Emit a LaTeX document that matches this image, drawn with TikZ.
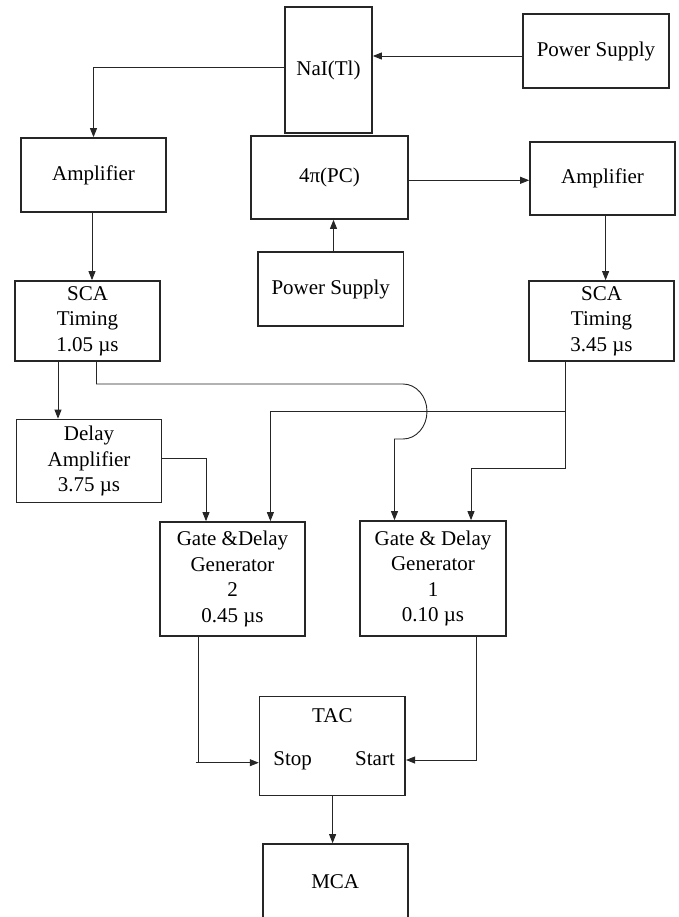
\documentclass[tikz,border=0pt]{standalone}
\usepackage{fontspec}
\setmainfont{Liberation Serif}
\usetikzlibrary{arrows.meta}
\begin{document}
\begin{tikzpicture}[x=1pt,y=-1pt,
  box/.style={draw=black!85, line width=1.7pt, align=center, inner sep=0pt, font=\fontsize{21}{25.5}\selectfont},
  conn/.style={draw=black!85, line width=0.9pt},
  arr/.style={conn, -{Triangle[length=9pt,width=7pt]}},
  lbl/.style={inner sep=0pt, font=\fontsize{21}{25.5}\selectfont}]
\useasboundingbox (0,0) rectangle (678,917);

\node[box, minimum width=87pt, minimum height=126pt] (nai) at (328.5,70) {NaI(Tl)};
\node[box, minimum width=146pt, minimum height=74pt] (ps1) at (596,51) {Power Supply};
\node[box, minimum width=145pt, minimum height=74pt] (amp1) at (93.5,175) {Amplifier};
\node[box, minimum width=157pt, minimum height=83pt] (pc) at (329.5,177.5) {4π(PC)};
\node[box, minimum width=145pt, minimum height=73pt] (amp2) at (602.5,178.5) {Amplifier};
\node[box, minimum width=145pt, minimum height=80pt] (sca1) at (87.5,321) {SCA\\Timing\\1.05 µs};
\node[box, minimum width=145.5pt, minimum height=74pt] (ps2) at (330.75,289) {Power Supply};
\node[box, minimum width=145pt, minimum height=80pt] (sca2) at (601.5,321) {SCA\\Timing\\3.45 µs};
\node[box, minimum width=145pt, minimum height=83pt] (delay) at (89,461) {Delay\\Amplifier\\3.75 µs};
\node[box, minimum width=145pt, minimum height=114pt] (gd2) at (232.5,579) {Gate \&Delay\\Generator\\2\\0.45 µs};
\node[box, minimum width=146pt, minimum height=115pt] (gd1) at (433,578.5) {Gate \& Delay\\Generator\\1\\0.10 µs};
\node[box, minimum width=145.6pt, minimum height=99pt] (tac) at (332.4,746) {};
\node[lbl, anchor=base] (taclbl) at (332.4,722.7) {TAC};
\node[lbl, anchor=base] (stop) at (292.6,765) {Stop};
\node[lbl, anchor=base] (start) at (375,765) {Start};
\node[box, minimum width=145pt, minimum height=83pt] (mca) at (335.2,885.5) {};
\node[lbl] (mcalbl) at (335.2,881.7) {MCA};

% connectors
\draw[arr] (ps1.west |- 0,56) -- (nai.east |- 0,56);
\draw[arr] (nai.west |- 0,67) -| (amp1.north);
\draw[arr] (pc.east |- 0,180.3) -- (amp2.west |- 0,180.3);
\draw[arr] (ps2.north -| 333.5,0) -- (pc.south -| 333.5,0);
\draw[arr] (amp1.south -| 92,0) -- (sca1.north -| 92,0);
\draw[arr] (amp2.south -| 605.6,0) -- (sca2.north -| 605.6,0);
\draw[arr] (sca1.south -| 58,0) -- (delay.north -| 58,0);

\coordinate (j1) at (565,411.7);
\coordinate (hop) at (403,384);
\draw[arr] (sca1.south -| 96.5,0) |- (hop)
  arc[start angle=90, end angle=-90, x radius=24pt, y radius=27.5pt]
  -- (394.5,439) -- (gd1.north -| 394.5,0);
\draw[conn] (sca2.south -| 565,0) -- (565,468.5);
\draw[arr] (j1) -| (gd2.north -| 270.4,0);
\draw[arr] (565,468.5) -| (gd1.north -| 471,0);
\draw[arr] (delay.east |- 0,458.3) -| (gd2.north -| 206,0);

\draw[conn] (gd2.south -| 198.7,0) -- (198.7,762.7);
\draw[arr] (195.7,762.7) -- (tac.west |- 0,762.7);
\draw[arr] (gd1.south -| 476.5,0) |- (tac.east |- 0,760);
\draw[arr] (tac.south -| 332.6,0) -- (mca.north -| 332.6,0);
\end{tikzpicture}
\end{document}
